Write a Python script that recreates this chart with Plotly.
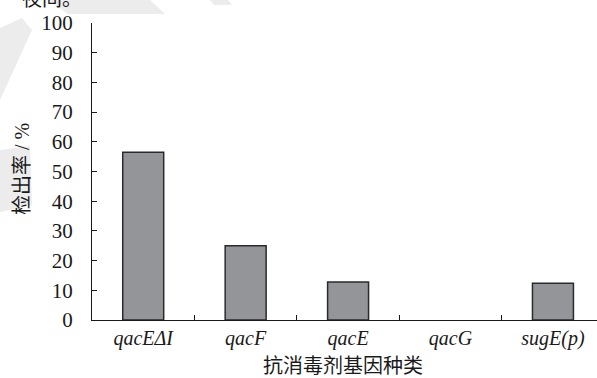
import plotly.graph_objects as go

# detection rate of disinfectant-resistance genes
genes = ["qacEΔI", "qacF", "qacE", "qacG", "sugE(p)"]
rates = [56.5, 25.0, 12.8, 0.0, 12.4]
y_ticks = [0, 10, 20, 30, 40, 50, 60, 70, 80, 90, 100]

W, H = 597, 378
ML, MR, MT, MB = 92, 0, 23, 58
PW, PH = W - ML - MR, H - MT - MB

serif = '"Liberation Serif", "Times New Roman", serif'
mixed = '"Liberation Serif", "Noto Sans CJK SC", serif'


def px(x, y):
    """pixel position -> paper coordinates"""
    return (x - ML) / PW, 1 - (y - MT) / PH


# no outline on empty (zero-height) bars
outline = [1.5 if r > 0 else 0 for r in rates]

fig = go.Figure(
    go.Bar(
        x=genes,
        y=rates,
        width=0.40,
        marker=dict(color="#949599", line=dict(color="#2a2a2a", width=outline)),
        hoverinfo="x+y",
    )
)

# faint background watermark bands
wm = [
    [(48, 0), (150, 0), (165, 14), (68, 14)],
    [(210, 0), (228, 0), (232, 5), (214, 5)],
    [(0, 28), (22, 18), (32, 30), (0, 100)],
    [(0, 150), (30, 146), (32, 205), (0, 212)],
]
shapes = []
for poly in wm:
    pts = [px(x, y) for x, y in poly]
    path = "M " + " L ".join(f"{a:.4f},{b:.4f}" for a, b in pts) + " Z"
    shapes.append(dict(type="path", xref="paper", yref="paper", path=path,
                       fillcolor="#ececec", line=dict(width=0), layer="below"))

ax, ay = px(343, 366)
tx, ty = px(22, 169)
cx, cy = px(20, 12)

fig.update_layout(
    width=W,
    height=H,
    margin=dict(l=ML, r=MR, t=MT, b=MB, pad=0),
    paper_bgcolor="white",
    plot_bgcolor="rgba(0,0,0,0)",
    showlegend=False,
    shapes=shapes,
    xaxis=dict(
        type="category",
        range=[-0.5, 4.43],
        showline=True,
        linecolor="#1a1a1a",
        linewidth=1.3,
        ticks="inside",
        tickson="boundaries",
        ticklen=5,
        tickwidth=1.2,
        tickcolor="#1a1a1a",
        showgrid=False,
        zeroline=False,
        tickfont=dict(family=serif, size=20, color="#1a1a1a", style="italic"),
        fixedrange=True,
    ),
    yaxis=dict(
        range=[0, 100],
        tickvals=y_ticks,
        showline=True,
        linecolor="#1a1a1a",
        linewidth=1.3,
        ticks="inside",
        ticklen=5,
        tickwidth=1.2,
        tickcolor="#1a1a1a",
        showgrid=False,
        zeroline=False,
        ticklabelstandoff=14,
        tickfont=dict(family=serif, size=21, color="#1a1a1a"),
        fixedrange=True,
    ),
    annotations=[
        dict(text="抗消毒剂基因种类", x=ax, y=ay, xref="paper", yref="paper",
             xanchor="center", yanchor="middle", showarrow=False,
             font=dict(family=mixed, size=20, color="#1a1a1a")),
        dict(text="检出率 / %", x=tx, y=ty, xref="paper", yref="paper",
             xanchor="center", yanchor="middle", showarrow=False, textangle=-90,
             font=dict(family=mixed, size=20, color="#1a1a1a")),
        dict(text="夜间。", x=cx, y=cy, xref="paper", yref="paper",
             xanchor="left", yanchor="bottom", showarrow=False,
             font=dict(family=mixed, size=20, color="#1a1a1a")),
    ],
)

fig.write_html("out.html")
